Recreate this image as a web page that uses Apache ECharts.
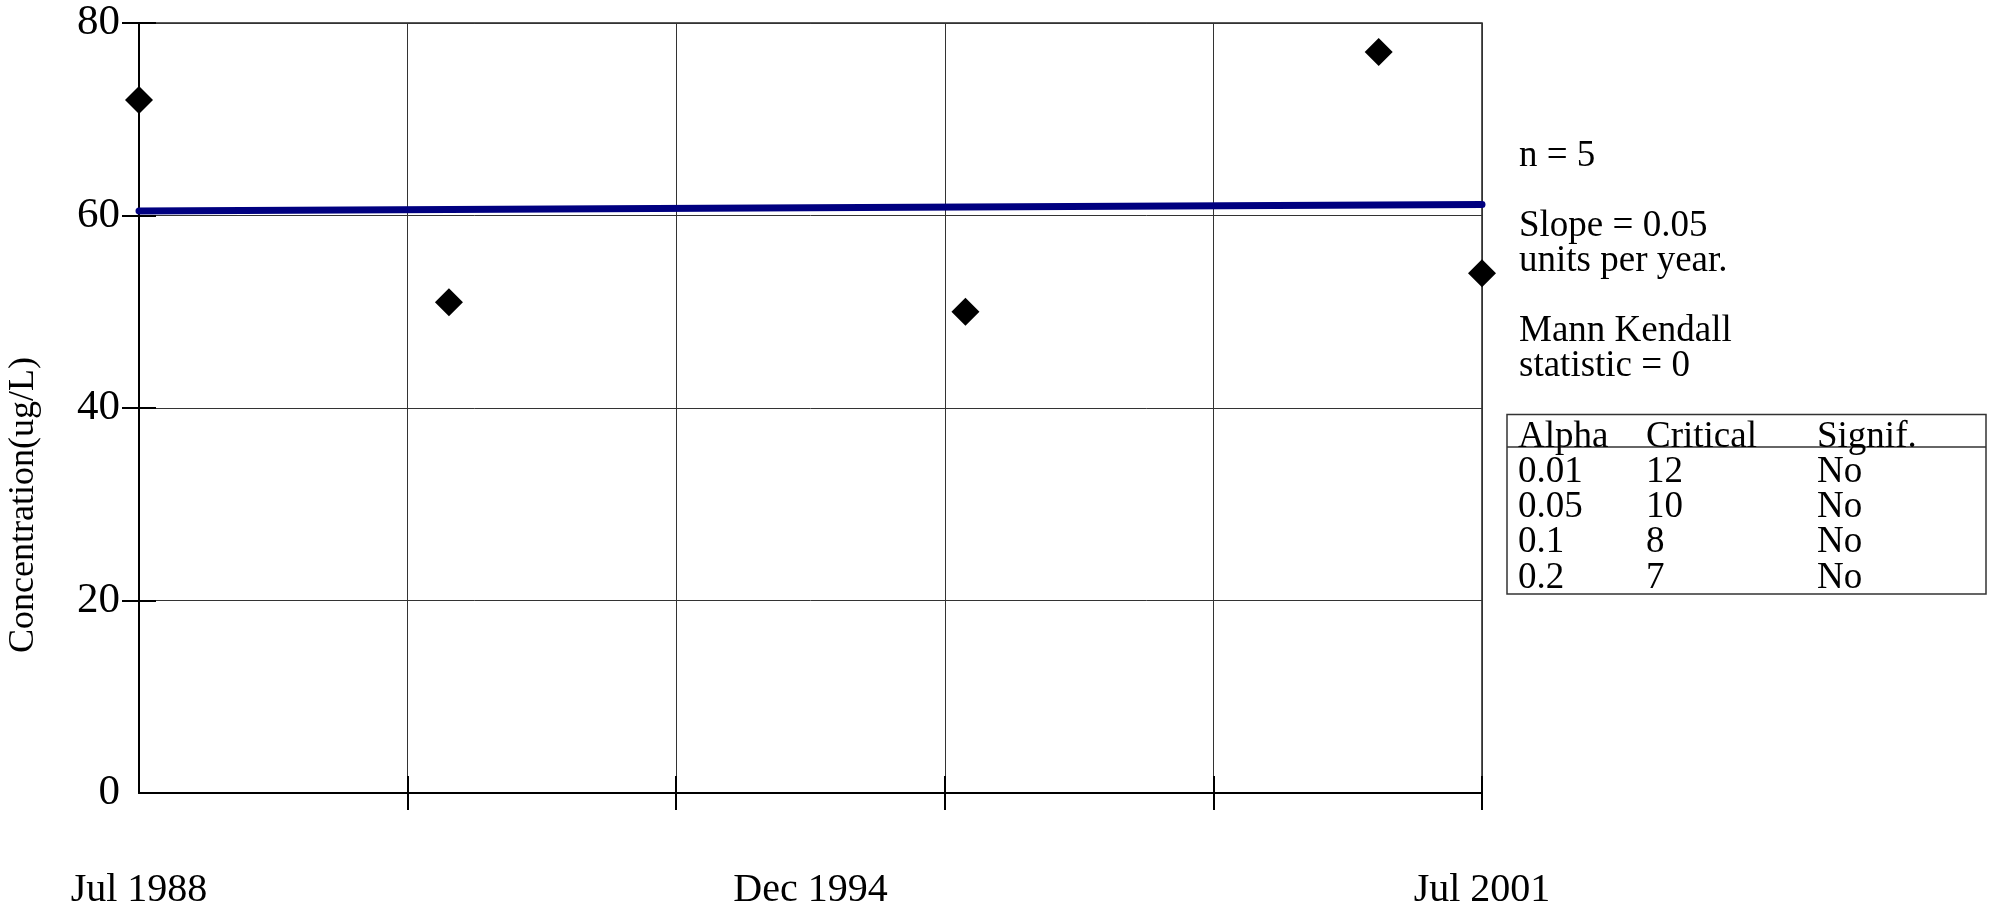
<!DOCTYPE html>
<html>
<head>
<meta charset="utf-8">
<style>
  html, body { margin: 0; padding: 0; background: #fff; }
  #chart { width: 1991px; height: 910px; }
</style>
<script src="https://cdn.jsdelivr.net/npm/echarts@6/dist/echarts.min.js"></script>
</head>
<body>
<div id="chart"></div>
<script>
// ---------------- data ----------------
const sampleDates = ['1988-07', '1991-07', '1996-07', '2000-07', '2001-07'];
const concentrations = [72, 51, 50, 77, 54];
const periodStart = '1988-07';
const periodEnd = '2001-07';
const trendValues = [60.48, 61.13];          // Sen slope line at period start / end
const xTickLabels = ['Jul 1988', 'Dec 1994', 'Jul 2001'];
const xDivisions = 5;
const yMin = 0, yMax = 80, yStep = 20;
const yTitle = 'Concentration(ug/L)';
const statsLines = ['n = 5', '', 'Slope = 0.05', 'units per year.', '', 'Mann Kendall', 'statistic = 0'];
const tableHeader = ['Alpha', 'Critical', 'Signif.'];
const alphaValues = ['0.01', '0.05', '0.1', '0.2'];
const criticalValues = ['12', '10', '8', '7'];
const signifValues = ['No', 'No', 'No', 'No'];

// ---------------- helpers ----------------
function toYears(s) { const [y, m] = s.split('-').map(Number); return y + (m - 1) / 12; }
const t0 = toYears(periodStart);
const xSpan = +(toYears(periodEnd) - t0).toFixed(6);
const xTickStep = xSpan / xDivisions;
const xLabelStep = xSpan / (xTickLabels.length - 1);
const points = sampleDates.map((d, i) => [+(toYears(d) - t0).toFixed(6), concentrations[i]]);
const trendData = [[0, trendValues[0]], [xSpan, trendValues[1]]];

// ---------------- layout ----------------
const G = { left: 139, top: 23, width: 1343, height: 770 };
const FONT = '"Liberation Serif", "Times New Roman", serif';
const TICK = 17;
const tickStyle = { color: '#000', width: 2 };

function textEl(text, x, y, size, align, valign, extra) {
  return Object.assign({
    type: 'text', x: x, y: y, silent: true,
    style: {
      text: text, fill: '#000',
      font: size + 'px ' + FONT,
      align: align, textAlign: align,
      verticalAlign: valign, textVerticalAlign: valign
    }
  }, extra || {});
}

const graphics = [];
graphics.push(textEl(yTitle, 24, 505, 36, 'center', 'middle', { rotation: Math.PI / 2 }));
const statsEl = textEl(statsLines.join('\n'), 1519, 138.5, 37, 'left', 'top');
statsEl.style.lineHeight = 35;
graphics.push(statsEl);

// table
const TB = { x: 1507, y: 414.5, w: 479, h: 179.5, headerLine: 447, rowTop: 437, rowH: 35.2, cols: [1518, 1646, 1817] };
graphics.push({ type: 'rect', silent: true, shape: { x: TB.x, y: TB.y, width: TB.w, height: TB.h },
  style: { fill: 'none', stroke: '#333', lineWidth: 1.5 } });
graphics.push({ type: 'line', silent: true, shape: { x1: TB.x, y1: TB.headerLine, x2: TB.x + TB.w, y2: TB.headerLine },
  style: { stroke: '#333', lineWidth: 1.5 } });
tableHeader.forEach((h, c) => graphics.push(textEl(h, TB.cols[c], TB.rowTop, 37, 'left', 'middle')));
alphaValues.forEach((a, r) => {
  const yy = TB.rowTop + (r + 1) * TB.rowH;
  [a, criticalValues[r], signifValues[r]].forEach((v, c) => graphics.push(textEl(v, TB.cols[c], yy, 37, 'left', 'middle')));
});

const tickFrac = xTickStep / xSpan;
const yTickFrac = (yMax - yStep - yMin) / (yMax - yMin);

// grids: 0 main, 1/2 x ticks (outside / inside), 3/4 y ticks (outside / inside)
const xTickGrid = { left: G.left + G.width * tickFrac, top: G.top, width: G.width * (1 - tickFrac), height: G.height };
const yTickGrid = { left: G.left, top: G.top, width: G.width, height: G.height * yTickFrac };

function xTickAxis(gi, inside) {
  return { gridIndex: gi, type: 'value', position: 'bottom', min: xTickStep, max: xSpan, interval: xTickStep,
    axisLine: { show: false, onZero: false }, axisLabel: { show: false }, splitLine: { show: false },
    axisTick: { show: true, inside: inside, length: TICK, lineStyle: tickStyle } };
}
function yTickAxis(gi, inside) {
  return { gridIndex: gi, type: 'value', position: 'left', min: yMin + yStep, max: yMax, interval: yStep,
    axisLine: { show: false, onZero: false }, axisLabel: { show: false }, splitLine: { show: false },
    axisTick: { show: true, inside: inside, length: TICK, lineStyle: tickStyle } };
}
function hiddenAxis(gi) { return { gridIndex: gi, type: 'value', show: false, min: 0, max: 1 }; }

const option = {
  animation: false,
  backgroundColor: '#fff',
  grid: [
    Object.assign({ show: true, borderColor: '#222', borderWidth: 1.5 }, G),
    Object.assign({}, xTickGrid),
    Object.assign({}, xTickGrid),
    Object.assign({}, yTickGrid),
    Object.assign({}, yTickGrid)
  ],
  xAxis: [
    { gridIndex: 0, type: 'value', position: 'bottom', min: 0, max: xSpan, interval: xTickStep,
      axisLine: { show: true, onZero: false, lineStyle: { color: '#000', width: 2 } },
      axisTick: { show: false }, axisLabel: { show: false },
      splitLine: { show: true, lineStyle: { color: '#333', width: 1 } } },
    { gridIndex: 0, type: 'value', position: 'bottom', min: 0, max: xSpan, interval: xLabelStep,
      axisLine: { show: false, onZero: false }, axisTick: { show: false }, splitLine: { show: false },
      axisLabel: { show: true, margin: 77, fontFamily: FONT, fontSize: 40, color: '#000',
        formatter: v => xTickLabels[Math.round(v / xLabelStep)] || '' } },
    xTickAxis(1, false),
    xTickAxis(2, true),
    hiddenAxis(3),
    hiddenAxis(4)
  ],
  yAxis: [
    { gridIndex: 0, type: 'value', position: 'left', min: yMin, max: yMax, interval: yStep,
      axisLine: { show: true, onZero: false, lineStyle: { color: '#000', width: 2 } },
      axisTick: { show: false },
      axisLabel: { show: true, margin: 19, fontFamily: FONT, fontSize: 43, color: '#000' },
      splitLine: { show: true, lineStyle: { color: '#333', width: 1 } } },
    hiddenAxis(1),
    hiddenAxis(2),
    yTickAxis(3, false),
    yTickAxis(4, true)
  ],
  series: [
    { type: 'line', xAxisIndex: 0, yAxisIndex: 0, data: trendData, symbol: 'none', clip: false, z: 3,
      lineStyle: { color: '#000080', width: 7, cap: 'round' } },
    { type: 'scatter', xAxisIndex: 0, yAxisIndex: 0, data: points, symbol: 'diamond', symbolSize: 28,
      clip: false, z: 4, itemStyle: { color: '#000', opacity: 1 } }
  ],
  graphic: graphics
};

const chart = echarts.init(document.getElementById('chart'), null, { renderer: 'canvas' });
chart.setOption(option);
</script>
</body>
</html>
